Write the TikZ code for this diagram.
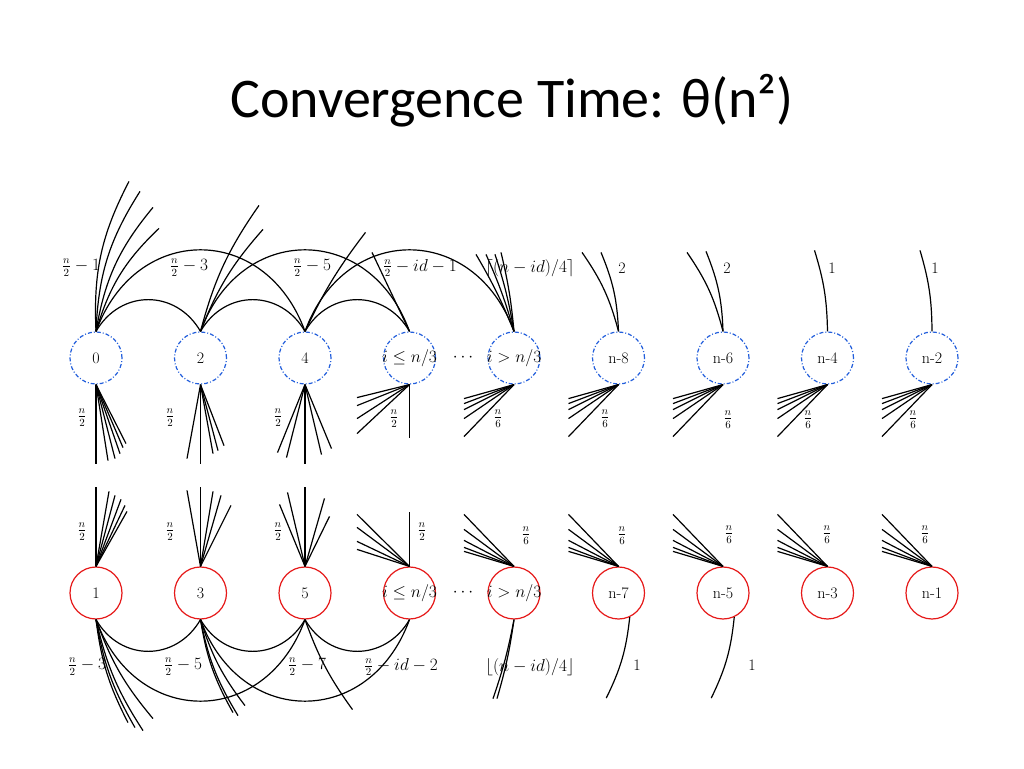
\documentclass[tikz,border=0pt]{standalone}
\usepackage{fontspec}
\newfontfamily\titlefont{Carlito}
\usetikzlibrary{positioning}
\definecolor{evenblue}{RGB}{35,95,220}
\definecolor{oddred}{RGB}{230,25,25}
\tikzstyle{every path}+=[line width=1.2pt]
\tikzstyle{evennode}=[circle,draw=evenblue,dash pattern=on 4pt off 2pt on 1pt off 2pt,minimum size=52pt,inner sep=0pt,font=\fontsize{16}{19}\selectfont]
\tikzstyle{oddnode}=[circle,draw=oddred,minimum size=52pt,inner sep=0pt,font=\fontsize{16}{19}\selectfont]
\tikzstyle{lbl}=[inner sep=0pt,font=\fontsize{16}{19}\selectfont]
\tikzstyle{inarc}=[out=60,in=120,looseness=1.2]
\tikzstyle{outarc}=[out=70,in=110,looseness=1.42]
\tikzstyle{inarcdown}=[out=-60,in=-120,looseness=1.2]
\tikzstyle{outarcdown}=[out=-70,in=-110,looseness=1.42]
\newcommand{\drawarcs}[2][]{
	\foreach \a/\b in {#2}{
		\draw[#1] (\a) edge (\b);
	}
}
\newcommand{\drawfan}[4][]{
	\foreach \dx/\dy [count=\k] in {#4}{
		\path (#2) ++(\dx,\dy) coordinate (#3-\k);
		\draw[#1] (#2) edge (#3-\k);
	}
}

\begin{document}
\begin{tikzpicture}[x=1pt,y=1pt,node distance=104.5pt]
\fill[white] (0,0) rectangle (1024,768);
\useasboundingbox (0,0) rectangle (1024,768);
\node[anchor=base,font=\titlefont\fontsize{56}{64}\selectfont] (title) at (512,650) {Convergence Time: θ(n²)};

% even row
\node[evennode] (a1) at (96,410) {0};
\node[evennode,right of=a1] (a2) {2};
\node[evennode,right of=a2] (a3) {4};
\node[evennode,right of=a3] (a4) {\makebox[0pt]{$i\le n/3$}};
\node[evennode,right of=a4] (a5) {\makebox[0pt]{$i>n/3$}};
\node[evennode,right of=a5] (a6) {n-8};
\node[evennode,right of=a6] (a7) {n-6};
\node[evennode,right of=a7] (a8) {n-4};
\node[evennode,right of=a8] (a9) {n-2};
% odd row
\node[oddnode,below of=a1,node distance=235pt] (b1) {1};
\node[oddnode,right of=b1] (b2) {3};
\node[oddnode,right of=b2] (b3) {5};
\node[oddnode,right of=b3] (b4) {\makebox[0pt]{$i\le n/3$}};
\node[oddnode,right of=b4] (b5) {\makebox[0pt]{$i>n/3$}};
\node[oddnode,right of=b5] (b6) {n-7};
\node[oddnode,right of=b6] (b7) {n-5};
\node[oddnode,right of=b7] (b8) {n-3};
\node[oddnode,right of=b8] (b9) {n-1};
\node[lbl] (adots) at (463,410) {$\cdots$};
\node[lbl] (bdots) at (463,175) {$\cdots$};

% arcs between nodes
\drawarcs[inarc]{a1.north/a2.north,a2.north/a3.north,a3.north/a4.north}
\drawarcs[outarc]{a1.north/a3.north,a2.north/a4.north,a3.north/a5.north}
\drawarcs[inarcdown]{b1.south/b2.south,b2.south/b3.south,b3.south/b4.south}
\drawarcs[outarcdown]{b1.south/b3.south,b2.south/b4.south}

% even row, upwards
\drawfan[bend left=15]{a1.north}{a1t}{33/150,44/140,57/124,63/103}
\drawfan[bend left=10]{a2.north}{a2t}{58.5/126,62.5/102}
\drawfan[bend left=6]{a3.north}{a3t}{60.5/99}
\drawfan{a4.north}{a4t}{-37.5/79}
\drawfan[bend right=4]{a5.north}{a5t}{-38/77,-28/77,-19/77,-13/79}
\drawfan[bend right=10]{a6.north}{a6t}{-36.5/79,-17.5/79}
\drawfan[bend right=10]{a7.north}{a7t}{-36/79,-17/80}
\drawfan[bend right=8]{a8.north}{a8t}{-13/81}
\drawfan[bend right=8]{a9.north}{a9t}{-12/81}
% even row, downwards
\drawfan{a1.south}{a1b}{0/-79,12/-76,19/-74,24/-69,27/-63,30/-59}
\drawfan{a2.south}{a2b}{0/-79,-13.5/-74,12.5/-69,17.5/-66,23.5/-61}
\drawfan{a3.south}{a3b}{0/-79,-27.5/-68,-18.5/-73,16.5/-70,26.5/-64}
\drawfan{a4.south}{a4b}{0/-53,-52.5/-13,-52.5/-21,-52.5/-34,-52.5/-49}
\foreach \n in {a5,a6,a7,a8,a9}{
	\drawfan{\n.south}{\n b}{-50/-14,-50/-19,-50/-25,-50/-34,-50/-52}
}
% odd row, upwards
\drawfan{b1.north}{b1t}{0/79,13/75,19/71,25/67,29/61,31/55}
\drawfan{b2.north}{b2t}{0/79,-13.5/76,12.5/75,20.5/71,30.5/61}
\drawfan{b3.north}{b3t}{0/79,-17.5/74,-25.5/62,19.5/68,24.5/50}
\drawfan{b4.north}{b4t}{0/54,-52.5/52,-52.5/39,-52.5/25,-52.5/17}
\foreach \n in {b5,b6,b7,b8,b9}{
	\drawfan{\n.north}{\n t}{-50/52,-50/37,-50/26,-50/19,-50/15}
}
% odd row, downwards
\drawfan[bend right=10]{b1.south}{b1b}{32/-103,39/-108,47/-111,57/-99}
\drawfan[bend right=10]{b2.south}{b2b}{32.5/-93,37.5/-96,44.5/-86}
\drawfan[bend right=8]{b3.south}{b3b}{47.5/-90}
\drawfan[bend left=4]{b5.south}{b5b}{-21/-79,-17/-79}
\drawfan[bend left=10]{b6.-65}{b6b}{-23.5/-81}
\drawfan[bend left=10]{b7.-65}{b7b}{-23/-81}

% weights
\node[lbl] (wa1) at (81,500) {$\frac{n}{2}-1$};
\node[lbl] (wa2) at (189,500) {$\frac{n}{2}-3$};
\node[lbl] (wa3) at (312,500) {$\frac{n}{2}-5$};
\node[lbl] (wa4) at (420,500) {$\frac{n}{2}-id-1$};
\node[lbl] (wa5) at (530,500) {$\lceil(n-id)/4\rceil$};
\node[lbl] (wa6) at (622,500) {2};
\node[lbl] (wa7) at (727,500) {2};
\node[lbl] (wa8) at (832,500) {1};
\node[lbl] (wa9) at (935,500) {1};
\node[lbl] (va1) at (82,350) {$\frac{n}{2}$};
\node[lbl] (va2) at (170,350) {$\frac{n}{2}$};
\node[lbl] (va3) at (278,350) {$\frac{n}{2}$};
\node[lbl] (va4) at (394,349) {$\frac{n}{2}$};
\node[lbl] (va5) at (498,349) {$\frac{n}{6}$};
\node[lbl] (va6) at (605,349) {$\frac{n}{6}$};
\node[lbl] (va7) at (728,348) {$\frac{n}{6}$};
\node[lbl] (va8) at (808,348) {$\frac{n}{6}$};
\node[lbl] (va9) at (913,348) {$\frac{n}{6}$};
\node[lbl] (vb1) at (82,236) {$\frac{n}{2}$};
\node[lbl] (vb2) at (170,236) {$\frac{n}{2}$};
\node[lbl] (vb3) at (278,236) {$\frac{n}{2}$};
\node[lbl] (vb4) at (422,236) {$\frac{n}{2}$};
\node[lbl] (vb5) at (526,232) {$\frac{n}{6}$};
\node[lbl] (vb6) at (622,232) {$\frac{n}{6}$};
\node[lbl] (vb7) at (729,233) {$\frac{n}{6}$};
\node[lbl] (vb8) at (827,233) {$\frac{n}{6}$};
\node[lbl] (vb9) at (925,233) {$\frac{n}{6}$};
\node[lbl] (wb1) at (87,101) {$\frac{n}{2}-3$};
\node[lbl] (wb2) at (183,101) {$\frac{n}{2}-5$};
\node[lbl] (wb3) at (307,101) {$\frac{n}{2}-7$};
\node[lbl] (wb4) at (401,101) {$\frac{n}{2}-id-2$};
\node[lbl] (wb5) at (530,101) {$\lfloor(n-id)/4\rfloor$};
\node[lbl] (wb6) at (637,103) {1};
\node[lbl] (wb7) at (752,103) {1};
\end{tikzpicture}
\end{document}
